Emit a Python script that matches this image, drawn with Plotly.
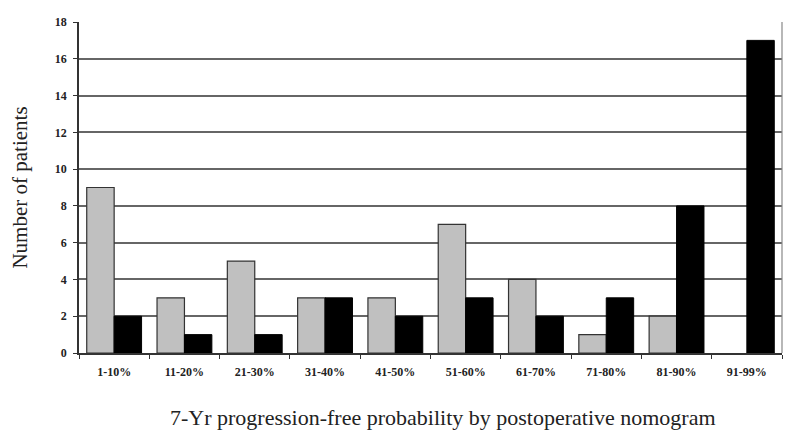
import plotly.graph_objects as go

categories = ["1-10%", "11-20%", "21-30%", "31-40%", "41-50%",
              "51-60%", "61-70%", "71-80%", "81-90%", "91-99%"]
gray_values = [9, 3, 5, 3, 3, 7, 4, 1, 2, 0]
black_values = [2, 1, 1, 3, 2, 3, 2, 3, 8, 17]
y_ticks = [0, 2, 4, 6, 8, 10, 12, 14, 16, 18]
x_title = "7-Yr progression-free probability by postoperative nomogram"
y_title = "Number of patients"

serif = "Times New Roman, Liberation Serif, DejaVu Serif, serif"

gray_line_widths = [1.2 if v > 0 else 0 for v in gray_values]

fig = go.Figure()
fig.add_trace(go.Bar(x=categories, y=gray_values,
                     marker=dict(color="#c0c0c0", line=dict(color="#333333", width=gray_line_widths)),
                     showlegend=False))
fig.add_trace(go.Bar(x=categories, y=black_values,
                     marker=dict(color="#000000", line=dict(color="#000000", width=1)),
                     showlegend=False))

fig.update_layout(
    width=800, height=441,
    margin=dict(l=71, r=26, t=14, b=96),
    paper_bgcolor="white", plot_bgcolor="white",
    barmode="group", bargap=0.22, bargroupgap=0,
    font=dict(family=serif, color="#222222"),
    xaxis=dict(
        automargin=False,
        showline=True, linecolor="#333333", linewidth=1.5,
        ticks="outside", ticklen=4, tickcolor="#333333", tickson="boundaries",
        tickfont=dict(size=12, family=serif, weight="bold"),
        ticklabelstandoff=7,
        showgrid=False,
    ),
    yaxis=dict(
        automargin=False,
        range=[0, 18], tickvals=y_ticks,
        showline=True, linecolor="#333333", linewidth=1.5,
        ticks="outside", ticklen=4, tickcolor="#333333",
        tickfont=dict(size=12, family=serif, weight="bold"),
        ticklabelstandoff=4,
        showgrid=True, gridcolor="#666666", gridwidth=1.5,
        zeroline=False,
        title=dict(text=y_title, font=dict(size=21, family=serif), standoff=28),
    ),
)
fig.add_annotation(text=x_title, xref="paper", yref="paper", x=0.518, y=-0.196,
                   xanchor="center", yanchor="middle", showarrow=False,
                   font=dict(size=22, family=serif, color="#222222"))
fig.add_shape(type="line", xref="paper", yref="paper", x0=1, x1=1, y0=0, y1=1,
              line=dict(color="#888888", width=1.2))
fig.write_html("out.html")
